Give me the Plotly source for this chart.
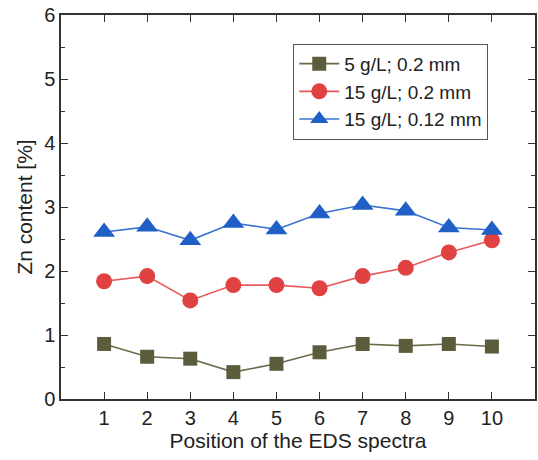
import plotly.graph_objects as go

# Zn content measured at each EDS spectrum position
positions = [1, 2, 3, 4, 5, 6, 7, 8, 9, 10]
zn_5gl_02mm = [0.86, 0.66, 0.63, 0.42, 0.55, 0.73, 0.86, 0.83, 0.86, 0.82]
zn_15gl_02mm = [1.84, 1.92, 1.54, 1.78, 1.78, 1.73, 1.92, 2.05, 2.29, 2.48]
zn_15gl_012mm = [2.61, 2.69, 2.48, 2.75, 2.65, 2.90, 3.03, 2.94, 2.68, 2.64]

series = [
    ("5 g/L; 0.2 mm", zn_5gl_02mm, "square", "#5c5c3c", "#6b6b48", 14),
    ("15 g/L; 0.2 mm", zn_15gl_02mm, "circle", "#e04141", "#e85a5a", 16),
    ("15 g/L; 0.12 mm", zn_15gl_012mm, "triangle-up", "#1f5fc6", "#3a74d0", 19),
]

fig = go.Figure()
for name, vals, sym, mcol, lcol, msize in series:
    fig.add_trace(go.Scatter(
        x=positions, y=vals, name=name, mode="lines+markers",
        line=dict(color=lcol, width=1.6),
        marker=dict(symbol=sym, size=msize, color=mcol, line=dict(width=0)),
    ))

axis_common = dict(
    showline=True, linecolor="#333333", linewidth=1.5, mirror="ticks",
    ticks="inside", tickcolor="#333333", tickwidth=1.3, ticklen=7,
    showgrid=False, zeroline=False,
    tickfont=dict(size=20, color="#222222"),
    title_font=dict(size=21, color="#222222"),
)

fig.update_xaxes(
    range=[0, 11], tickvals=positions,
    title_text="Position of the EDS spectra", title_standoff=4,
    **axis_common,
)
fig.update_yaxes(
    range=[0, 6], tickvals=[0, 1, 2, 3, 4, 5, 6],
    minor=dict(tickvals=[0.5, 1.5, 2.5, 3.5, 4.5, 5.5], ticks="inside",
               ticklen=4, tickcolor="#333333", tickwidth=1.3),
    title_text="Zn content [%]", title_standoff=6,
    **axis_common,
)

fig.update_layout(
    width=538, height=460,
    margin=dict(l=61, r=1, t=15, b=61),
    paper_bgcolor="white", plot_bgcolor="white",
    font=dict(family="Liberation Sans, Arial, sans-serif", color="#222222"),
    showlegend=True,
    legend=dict(
        x=0.49, y=0.925, xanchor="left", yanchor="top",
        bordercolor="#555555", borderwidth=1, bgcolor="white",
        font=dict(size=19, color="#222222"),
        tracegroupgap=0, itemwidth=40,
    ),
)

fig.write_html("out.html")
